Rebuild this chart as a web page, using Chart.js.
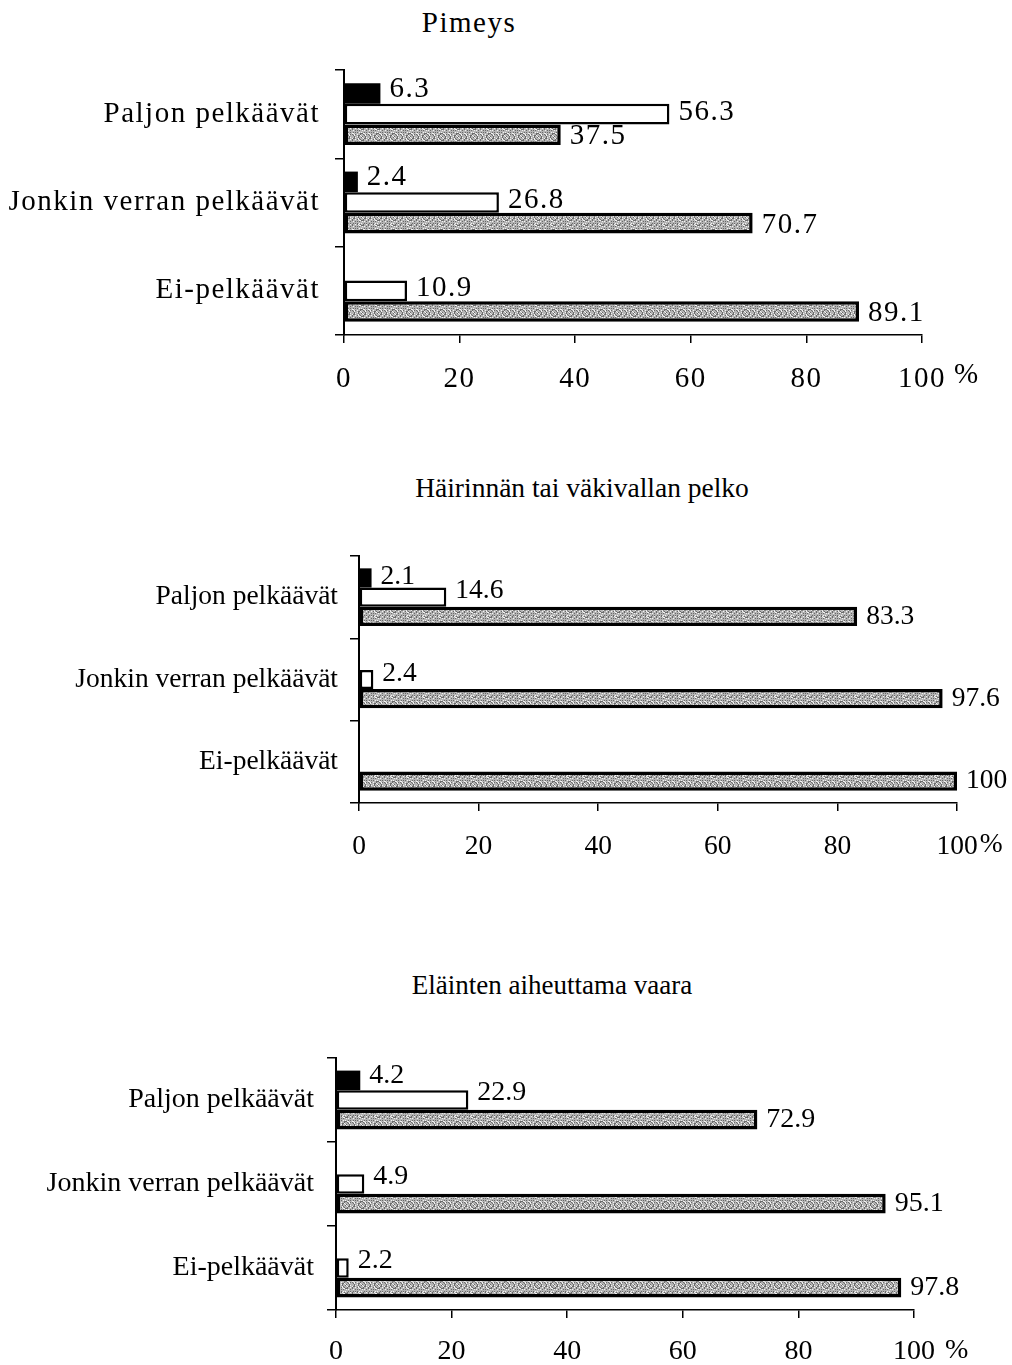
<!DOCTYPE html>
<html lang="fi">
<head>
<meta charset="utf-8">
<title>Pelot</title>
<script src="https://cdn.jsdelivr.net/npm/chart.js@4.4.1/dist/chart.umd.min.js"></script>
<style>
  body { margin: 0; background: #fff; }
  #page { position: relative; width: 1012px; height: 1365px; overflow: hidden;
          font-family: "Liberation Serif", "DejaVu Serif", serif; color: #000; }
  .box { position: absolute; left: 0; width: 1012px; }
  .title { position: absolute; transform: translate(-50%, -50%); white-space: nowrap; }
</style>
</head>
<body>
<div id="page">
  <div class="title" style="left:469px; top:22px; font-size:29px; letter-spacing:1.5px">Pimeys</div>
  <div class="box" style="top:0; height:420px"><canvas id="c1"></canvas></div>

  <div class="title" style="left:582px; top:488px; font-size:27.5px">Häirinnän tai väkivallan pelko</div>
  <div class="box" style="top:440px; height:440px"><canvas id="c2"></canvas></div>

  <div class="title" style="left:552px; top:985px; font-size:27px">Eläinten aiheuttama vaara</div>
  <div class="box" style="top:940px; height:425px"><canvas id="c3"></canvas></div>
</div>

<script>
const categories = ['Paljon pelkäävät', 'Jonkin verran pelkäävät', 'Ei-pelkäävät'];
const seriesNames = ['Paljon', 'Jonkin verran', 'Ei lainkaan'];
const xTicks = [0, 20, 40, 60, 80, 100];

// Pimeys
const pimeysBlack = [6.3, 2.4, null];
const pimeysWhite = [56.3, 26.8, 10.9];
const pimeysGray = [37.5, 70.7, 89.1];

// Häirinnän tai väkivallan pelko
const hairintaBlack = [2.1, null, null];
const hairintaWhite = [14.6, 2.4, null];
const hairintaGray = [83.3, 97.6, 100];

// Eläinten aiheuttama vaara
const elaimetBlack = [4.2, null, null];
const elaimetWhite = [22.9, 4.9, 2.2];
const elaimetGray = [72.9, 95.1, 97.8];

const INK = '#000';

// grey stipple fill like the scanned original
function stipple(ctx) {
    const c = document.createElement('canvas');
    c.width = c.height = 16;
    const g = c.getContext('2d');
    g.fillStyle = '#b4b4b4';
    g.fillRect(0, 0, 16, 16);
    for (let y = 0; y < 16; y++) {
        for (let x = 0; x < 16; x++) {
            const h = (x * 7 + y * 13 + x * y * 5) % 11;
            if (h < 3) { g.fillStyle = '#6a6a6a'; g.fillRect(x, y, 1, 1); }
            else if (h > 8) { g.fillStyle = '#f2f2f2'; g.fillRect(x, y, 1, 1); }
        }
    }
    return ctx.createPattern(c, 'repeat');
}

const valueLabels = {
    id: 'valueLabels',
    afterDatasetsDraw(chart, args, opts) {
        const ctx = chart.ctx;
        ctx.save();
        ctx.font = opts.font;
        ctx.fillStyle = INK;
        ctx.textAlign = 'left';
        ctx.textBaseline = 'middle';
        chart.data.datasets.forEach((ds, i) => {
            chart.getDatasetMeta(i).data.forEach((bar, j) => {
                const v = ds.data[j];
                if (v == null) return;
                ctx.fillText(String(v), bar.x + 9, bar.y + opts.dy[i]);
            });
        });
        ctx.restore();
    }
};

const percentSign = {
    id: 'percentSign',
    afterDraw(chart, args, opts) {
        const ctx = chart.ctx;
        const x = chart.scales.x;
        ctx.save();
        ctx.font = opts.font;
        ctx.fillStyle = INK;
        ctx.textAlign = 'left';
        ctx.textBaseline = 'middle';
        const w = ctx.measureText('100').width;
        ctx.fillText('%', x.getPixelForValue(100) + w / 2 + opts.gap, chart.chartArea.bottom + opts.dy);
        ctx.restore();
    }
};

const spacing = {
    id: 'spacing',
    beforeUpdate(chart, args, opts) { chart.ctx.letterSpacing = opts.px + 'px'; },
    beforeDraw(chart, args, opts) { chart.ctx.letterSpacing = opts.px + 'px'; }
};

function makeChart(id, black, white, gray, cfg) {
    const el = document.getElementById(id);
    const ctx = el.getContext('2d');
    const font = { family: 'Liberation Serif', size: cfg.size };
    const cssFont = cfg.size + 'px "Liberation Serif"';

    return new Chart(el, {
        type: 'bar',
        data: {
            labels: categories,
            datasets: [
                { label: seriesNames[0], data: black, backgroundColor: INK, borderWidth: 0 },
                { label: seriesNames[1], data: white, backgroundColor: '#fff', borderColor: INK, borderWidth: 2.5, borderSkipped: false },
                { label: seriesNames[2], data: gray, backgroundColor: stipple(ctx), borderColor: INK, borderWidth: 3.5, borderSkipped: false }
            ]
        },
        options: {
            indexAxis: 'y',
            responsive: true,
            maintainAspectRatio: false,
            animation: false,
            layout: { padding: { top: cfg.top, right: cfg.right, left: 0, bottom: 0 } },
            datasets: { bar: { categoryPercentage: 0.7, barPercentage: 1.0 } },
            plugins: {
                legend: { display: false },
                tooltip: { enabled: false },
                valueLabels: { font: cssFont, dy: cfg.dy },
                percentSign: { font: cssFont, gap: cfg.pctGap, dy: cfg.pctDy },
                spacing: { px: cfg.spacing }
            },
            scales: {
                x: {
                    type: 'linear',
                    min: 0,
                    max: 100,
                    afterBuildTicks: s => { s.ticks = xTicks.map(v => ({ value: v })); },
                    afterFit: s => { s.height = cfg.bottom; },
                    ticks: { color: INK, font: font, padding: cfg.xPad, maxRotation: 0 },
                    grid: { drawOnChartArea: false, tickLength: 8, color: INK, lineWidth: 1.5 },
                    border: { color: INK, width: 1.5 }
                },
                y: {
                    type: 'category',
                    afterFit: s => { s.width = cfg.left; },
                    ticks: { color: INK, font: font, padding: cfg.yPad },
                    grid: { offset: true, drawOnChartArea: false, tickLength: 9, color: INK, lineWidth: 1.5 },
                    border: { color: INK, width: 2 }
                }
            }
        },
        plugins: [spacing, valueLabels, percentSign]
    });
}

makeChart('c1', pimeysBlack, pimeysWhite, pimeysGray, {
    size: 29, spacing: 1.5, top: 70, bottom: 85, left: 344, right: 90,
    xPad: 19, yPad: 15, dy: [-4, -2, 2], pctGap: 8, pctDy: 40
});
makeChart('c2', hairintaBlack, hairintaWhite, hairintaGray, {
    size: 27.5, spacing: 0, top: 116, bottom: 77, left: 359, right: 55,
    xPad: 19, yPad: 12, dy: [-1, -6, 0], pctGap: 2, pctDy: 42
});
makeChart('c3', elaimetBlack, elaimetWhite, elaimetGray, {
    size: 28, spacing: 0, top: 118, bottom: 55, left: 336, right: 98,
    xPad: 17, yPad: 13, dy: [-5, -7, 0], pctGap: 10, pctDy: 41
});
</script>
</body>
</html>
